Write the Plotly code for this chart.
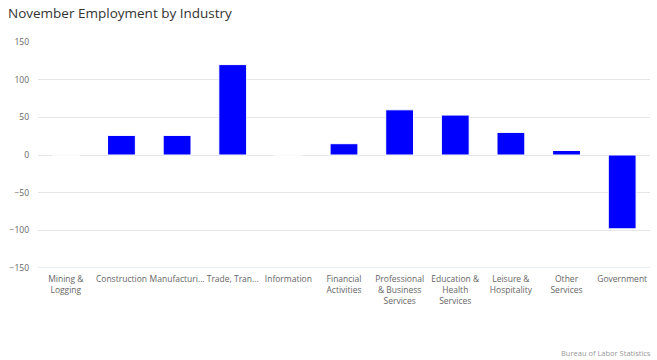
import plotly.graph_objects as go

categories = ["Mining &<br>Logging", "Construction", "Manufacturi...", "Trade, Tran...", "Information",
              "Financial<br>Activities", "Professional<br>& Business<br>Services",
              "Education &<br>Health<br>Services", "Leisure &<br>Hospitality", "Other<br>Services", "Government"]
values = [0, 26, 26, 120, 0, 15, 60, 53, 30, 6, -98]
y_ticks = [-150, -100, -50, 0, 50, 100, 150]

FONT = "Open Sans, Lato, sans-serif"

fig = go.Figure()
fig.add_trace(go.Bar(
    x=categories, y=values,
    marker=dict(color="#0000ff", line=dict(color="#ffffff", width=1)),
    width=0.5,
))

fig.update_layout(
    width=657, height=360,
    margin=dict(l=38, r=7, t=42, b=92, autoexpand=False),
    paper_bgcolor="#ffffff", plot_bgcolor="#ffffff",
    showlegend=False,
    title=dict(text="November Employment by Industry", x=8/657, xanchor="left",
               y=1-13/360, yanchor="middle", xref="container", yref="container",
               pad=dict(l=0, r=0, t=0, b=0),
               font=dict(family=FONT, size=13.5, color="#333333")),
    xaxis=dict(showgrid=False, ticks="", tickfont=dict(family=FONT, size=8.5, color="#666666"),
               tickangle=0, showline=False, zeroline=False, automargin=False,
               ticklabelstandoff=4),
    yaxis=dict(range=[-150, 150], tickvals=y_ticks, showgrid=True, gridcolor="#e6e6e6",
               gridwidth=1, zeroline=False, ticks="", ticklen=0, automargin=False,
               ticklabelstandoff=8,
               tickfont=dict(family=FONT, size=8.5, color="#666666"), showline=False),
    font=dict(family=FONT),
)
fig.add_shape(type="line", xref="paper", yref="y", x0=0, x1=1, y0=-150, y1=-150,
              line=dict(color="#ccd6eb", width=1))
fig.add_annotation(text="Bureau of Labor Statistics", xref="paper", yref="paper",
                   x=1, y=0, xanchor="right", yanchor="middle",
                   yshift=-85, xshift=3, showarrow=False,
                   font=dict(family=FONT, size=7.5, color="#999999"))

fig.write_html("out.html", config={"displayModeBar": False},
               post_script="document.body.style.margin='0';document.body.style.overflow='hidden';")
